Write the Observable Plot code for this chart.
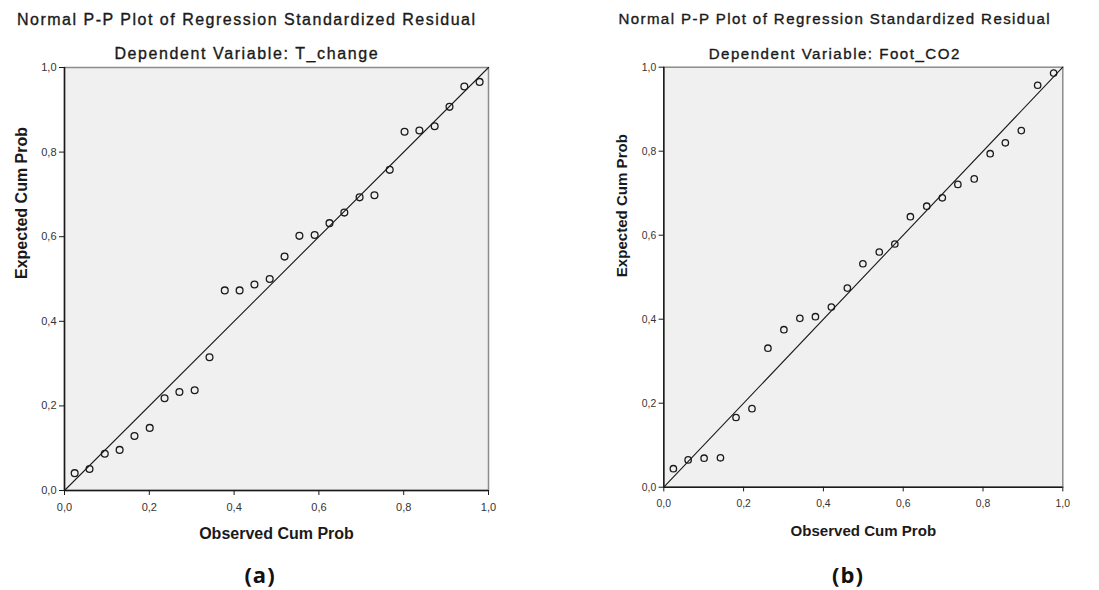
<!DOCTYPE html>
<html>
<head>
<meta charset="utf-8">
<script src="https://cdn.jsdelivr.net/npm/d3@7"></script>
<script src="https://cdn.jsdelivr.net/npm/@observablehq/plot@0.6"></script>
<style>
  body { margin: 0; background: #fff; }
  #root { position: relative; width: 1099px; height: 590px; background: #fff; overflow: hidden;
          font-family: "Liberation Sans", Arial, sans-serif; color: #1a1a1a; }
  .t { position: absolute; text-align: center; white-space: nowrap; -webkit-text-stroke: 0.35px #1a1a1a; }
  .tag { position: absolute; text-align: center; font-family: "Open Sans", sans-serif; font-weight: 700; color: #111; }
  .pane { position: absolute; }
</style>
</head>
<body>
<div id="root"></div>
<script>
// ---- data ----
const mainTitle = "Normal P-P Plot of Regression Standardized Residual";
const subtitles = ["Dependent Variable: T_change", "Dependent Variable: Foot_CO2"];
const panelTags = ["(a)", "(b)"];
const xLabel = "Observed Cum Prob";
const yLabel = "Expected Cum Prob";
const tickValues = [0, 0.2, 0.4, 0.6, 0.8, 1.0];
const tickLabels = ["0,0", "0,2", "0,4", "0,6", "0,8", "1,0"];
const refLine = [0, 1];

const obsA = [0.024,0.059,0.095,0.130,0.165,0.201,0.236,0.271,0.307,0.342,0.378,0.413,0.448,0.484,0.519,0.554,0.590,0.625,0.660,0.696,0.731,0.767,0.802,0.837,0.873,0.908,0.943,0.979];
const expA = [0.041,0.051,0.087,0.096,0.129,0.148,0.218,0.233,0.237,0.315,0.473,0.473,0.487,0.500,0.553,0.602,0.604,0.632,0.657,0.693,0.698,0.758,0.848,0.851,0.861,0.907,0.955,0.966];

const obsB = [0.024,0.061,0.101,0.142,0.181,0.221,0.261,0.301,0.341,0.380,0.420,0.460,0.499,0.540,0.579,0.618,0.659,0.698,0.737,0.778,0.818,0.856,0.896,0.937,0.977];
const expB = [0.044,0.065,0.069,0.070,0.166,0.187,0.331,0.375,0.402,0.406,0.429,0.474,0.532,0.560,0.579,0.644,0.669,0.689,0.721,0.734,0.794,0.820,0.849,0.957,0.986];

// ---- layout ----
const panels = [
  { obs: obsA, exp: expA, s: 1, left: 0, top: 62, width: 500, height: 488,
    mL: 64, mR: 12, mT: 5, mB: 60, titleX: 246, titleTop: 11.5, subTop: 45.5,
    ylDx: -43, xlDy: 36.7, tagX: 260, tagTop: 561 },
  { obs: obsB, exp: expB, s: 0.942, left: 600, top: 62, width: 472, height: 482,
    mL: 63.3, mR: 9.7, mT: 4.7, mB: 57.3, titleX: 834, titleTop: 11.3, subTop: 45.6,
    ylDx: -42, xlDy: 38.5, tagX: 848, tagTop: 561 }
];

const root = document.getElementById("root");
const fmt = d => tickLabels[tickValues.findIndex(v => Math.abs(v - d) < 1e-9)];

panels.forEach((p, i) => {
  const s = p.s;
  const addText = (txt, cx, top, fs, ls) => {
    const el = document.createElement("div");
    el.className = "t";
    el.textContent = txt;
    el.style.left = (cx - 300) + "px";
    el.style.width = "600px";
    el.style.top = top + "px";
    el.style.fontSize = fs + "px";
    el.style.lineHeight = fs + "px";
    el.style.letterSpacing = ls + "px";
    el.style.paddingLeft = ls + "px";
    el.style.boxSizing = "border-box";
    root.appendChild(el);
  };
  addText(mainTitle, p.titleX, p.titleTop, 16 * s, 1.5 * s);
  addText(subtitles[i], p.titleX, p.subTop, 16 * s, 1.6 * s);

  const data = p.obs.map((o, k) => ({ obs: o, exp: p.exp[k] }));

  const chart = Plot.plot({
    width: p.width,
    height: p.height,
    marginLeft: p.mL,
    marginRight: p.mR,
    marginTop: p.mT,
    marginBottom: p.mB,
    x: { domain: [0, 1] },
    y: { domain: [0, 1] },
    style: { fontFamily: "'Liberation Sans', Arial, sans-serif", background: "transparent", color: "#1a1a1a", overflow: "visible" },
    marks: [
      Plot.frame({ fill: "#f0f0f0", stroke: "#8c8c8c", strokeWidth: 1.5 }),
      Plot.ruleX([0], { stroke: "#1a1a1a", strokeWidth: 1.5 }),
      Plot.ruleY([0], { stroke: "#1a1a1a", strokeWidth: 1.5 }),
      Plot.axisX({ ticks: tickValues, tickFormat: fmt, tickSize: 5 * s, tickPadding: 8 * s,
                   fontSize: 11 * s, label: null, stroke: "#1a1a1a", fill: "#333" }),
      Plot.axisY({ ticks: tickValues, tickFormat: fmt, tickSize: 5 * s, tickPadding: 3 * s,
                   fontSize: 11 * s, label: null, stroke: "#1a1a1a", fill: "#333" }),
      Plot.line(refLine, { x: d => d, y: d => d, stroke: "#1a1a1a", strokeWidth: 1.1 }),
      Plot.dot(data, { x: "obs", y: "exp", r: 3.4 * s, stroke: "#1a1a1a", strokeWidth: 1.3, fill: "none" }),
      Plot.text([xLabel], { frameAnchor: "bottom", dy: p.xlDy, lineAnchor: "top",
                            fontWeight: "bold", fontSize: 16 * s, fill: "#1a1a1a" }),
      Plot.text([yLabel], { frameAnchor: "left", dx: p.ylDx, rotate: -90, lineAnchor: "middle",
                            fontWeight: "bold", fontSize: 16 * s, fill: "#1a1a1a" })
    ]
  });
  const pane = document.createElement("div");
  pane.className = "pane";
  pane.style.left = p.left + "px";
  pane.style.top = p.top + "px";
  pane.appendChild(chart);
  root.appendChild(pane);

  const tag = document.createElement("div");
  tag.className = "tag";
  tag.textContent = panelTags[i];
  tag.style.left = (p.tagX - 50) + "px";
  tag.style.width = "100px";
  tag.style.top = p.tagTop + "px";
  tag.style.fontSize = "22px";
  tag.style.lineHeight = "26px";
  tag.style.letterSpacing = "1px";
  root.appendChild(tag);
});
</script>
</body>
</html>
